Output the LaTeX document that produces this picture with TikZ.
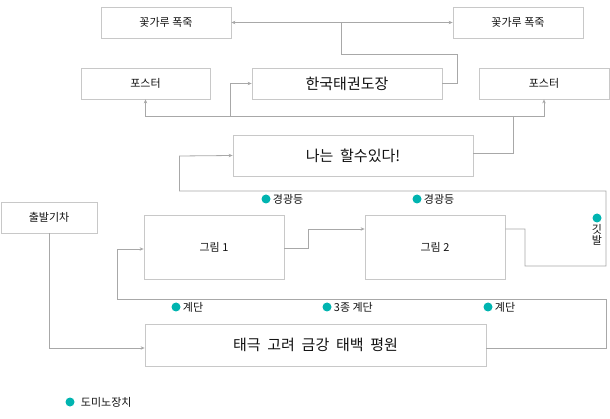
\documentclass[tikz,border=0pt]{standalone}
\usepackage{fontspec}
\setmainfont{Noto Sans CJK KR}
\usepackage{tikz}
\usetikzlibrary{positioning, arrows.meta, calc}
\definecolor{box-grey}{HTML}{C8C8C8}
\definecolor{line-grey}{HTML}{A8A8A8}
\definecolor{dot-teal}{HTML}{00B4B0}
\definecolor{text-dark}{HTML}{111111}
\newcommand{\wgap}{\hspace{0.45em}}

\tikzset{
	box/.style={draw=box-grey, line width=0.8pt, fill=white, text=text-dark, inner sep=0pt, font=\fontsize{11}{13}\selectfont},
	bigbox/.style={box, font=\fontsize{15}{18}\selectfont},
	link/.style={draw=line-grey, line width=0.8pt},
	arr/.style={link, -{Stealth[length=4pt, width=3.5pt]}},
	dot/.style={circle, fill=dot-teal, minimum size=9pt, inner sep=0pt},
	tag/.style={text=text-dark, inner sep=1pt, font=\fontsize{11}{13}\selectfont}
}

\begin{document}
\begin{tikzpicture}[x=1pt, y=-1pt]
	\useasboundingbox (0,0) rectangle (610,419);

	\node[box, minimum width=130pt, minimum height=31pt] at (166,22.5) (pollen1) {꽃가루 폭죽};
	\node[box, minimum width=130pt, minimum height=31pt] at (518,22.5) (pollen2) {꽃가루 폭죽};

	\node[box, minimum width=129pt, minimum height=31pt] at (145.5,83.5) (poster1) {포스터};
	\node[bigbox, minimum width=190pt, minimum height=31pt] at (347,83.5) (dojang) {한국태권도장};
	\node[box, minimum width=130pt, minimum height=31pt] at (544,83.5) (poster2) {포스터};

	\node[bigbox, minimum width=240pt, minimum height=41pt] at (353,155.5) (cando) {나는\wgap 할수있다!};

	\node[box, minimum width=96pt, minimum height=31pt] at (49,217.5) (train) {출발기차};
	\node[box, minimum width=140pt, minimum height=64pt] at (214,247) (pic1) {그림 1};
	\node[box, minimum width=140pt, minimum height=64pt] at (435,247) (pic2) {그림 2};

	\node[bigbox, minimum width=341pt, minimum height=42pt] at (315.5,345) (taeguk) {태극\wgap 고려\wgap 금강\wgap 태백\wgap 평원};

	% top: pollen and dojang
	\coordinate (j1) at (341,22.5);
	\coordinate (j2) at (457.5,54);
	\draw[link, {Stealth[length=4pt, width=3.5pt]}-{Stealth[length=4pt, width=3.5pt]}] (pollen1.east) -- (pollen2.west);
	\draw[link] (j1) |- (j2) |- (dojang.east);

	% posters
	\coordinate (j3) at (513,116);
	\coordinate (j4) at (230,116);
	\draw[arr] (j3) -| (poster1.south);
	\draw[arr] (j3) -| (poster2.south);
	\draw[arr] (j4) |- (dojang.west);
	\draw[link] (j3) |- ($(cando.east)+(0,-2.5)$);

	% loop back to cando
	\coordinate (k1) at (525,266);
	\coordinate (k2) at (606,191);
	\coordinate (k3) at (179.5,156);
	\draw[arr] ($(pic2.east)+(0,-18)$) -| (k1) -| (k2) -| (k3) -- (cando.west);

	% pictures
	\coordinate (k4) at (308,229);
	\draw[arr] ($(pic1.east)+(0,1)$) -| (k4) -- ($(pic2.west)+(0,-18)$);

	\coordinate (k5) at (606,299);
	\coordinate (k6) at (117,249);
	\draw[arr] ($(taeguk.east)+(0,3)$) -| (k5) -| (k6) -- ($(pic1.west)+(0,2)$);

	\draw[arr] (train.south) |- ($(taeguk.west)+(0,3)$);

	% labels
	\node[dot] at (266,199) (lamp1) {};
	\node[tag, right=1pt of lamp1] (lamp1-t) {경광등};
	\node[dot] at (417,199) (lamp2) {};
	\node[tag, right=1pt of lamp2] (lamp2-t) {경광등};
	\node[dot] at (597,218) (flag) {};
	\node[tag, below=1pt of flag, align=center, font=\fontsize{11}{11}\selectfont] (flag-t) {깃\\발};

	\node[dot] at (176,307) (step1) {};
	\node[tag, right=1pt of step1] (step1-t) {계단};
	\node[dot] at (327,307) (step3) {};
	\node[tag, right=1pt of step3] (step3-t) {3종 계단};
	\node[dot] at (488,307) (step2) {};
	\node[tag, right=1pt of step2] (step2-t) {계단};

	\node[dot] at (70,402) (domino) {};
	\node[tag, right=5pt of domino] (domino-t) {도미노장치};
\end{tikzpicture}
\end{document}
